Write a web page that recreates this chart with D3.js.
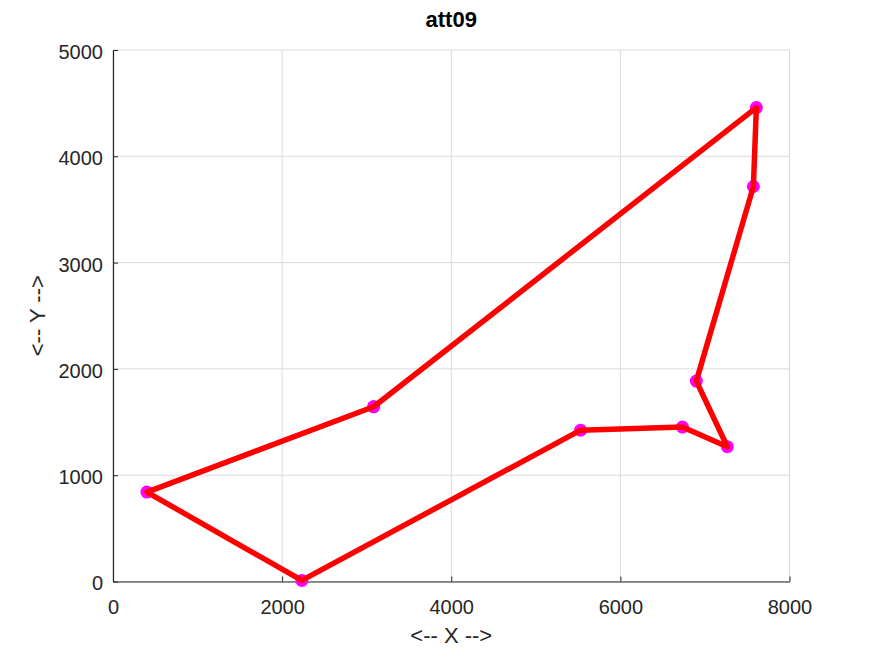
<!DOCTYPE html>
<html><head><meta charset="utf-8">
<script src="https://cdn.jsdelivr.net/npm/d3@7"></script>
<style>body{margin:0;background:#fff}svg{display:block}text{font-family:"Liberation Sans",Arial,sans-serif}</style>
</head><body>
<script>
const title = "att09";
const tourX = [3082, 7608, 7573, 6898, 7265, 6734, 5530, 2233, 401, 3082];
const tourY = [1644, 4458, 3716, 1885, 1268, 1453, 1424, 10, 841, 1644];
const xTicks = [0, 2000, 4000, 6000, 8000];
const yTicks = [0, 1000, 2000, 3000, 4000, 5000];

const W = 872, H = 654;
const m = {l:113, r:789.5, t:50, b:581.5};
const svg = d3.select("body").append("svg").attr("width", W).attr("height", H);
const x = d3.scaleLinear().domain([0, 8000]).range([m.l, m.r]);
const y = d3.scaleLinear().domain([0, 5000]).range([m.b, m.t]);

// grid
const g = svg.append("g");
g.selectAll(".gx").data(xTicks).enter().append("line")
  .attr("x1", d=>x(d)).attr("x2", d=>x(d)).attr("y1", m.t).attr("y2", m.b)
  .attr("stroke", "#dadada").attr("stroke-width", 1);
g.selectAll(".gy").data(yTicks).enter().append("line")
  .attr("y1", d=>y(d)).attr("y2", d=>y(d)).attr("x1", m.l).attr("x2", m.r)
  .attr("stroke", "#dadada").attr("stroke-width", 1);

// axes
const fmt = d3.format("d");
const xAxis = d3.axisBottom(x).tickValues(xTicks).tickFormat(fmt).tickSizeInner(-5).tickSizeOuter(0);
const yAxis = d3.axisLeft(y).tickValues(yTicks).tickFormat(fmt).tickSizeInner(-5).tickSizeOuter(0);
const gx = svg.append("g").attr("transform", `translate(0,${m.b})`).call(xAxis);
const gy = svg.append("g").attr("transform", `translate(${m.l},0)`).call(yAxis);
[gx, gy].forEach(a => {
  a.select(".domain").attr("stroke", "#262626").attr("stroke-width", 1.2);
  a.selectAll(".tick line").attr("stroke", "#262626");
  a.selectAll(".tick text").attr("fill", "#262626").style("font-size", "20px")
    .style("font-family", '"Liberation Sans",Arial,sans-serif');
});
gx.selectAll(".tick text").attr("dy", null).attr("y", 32.5);
gy.selectAll(".tick text").attr("x", -10).attr("dy", "0.42em");

// data
const pts = tourX.map((v,i)=>[v, tourY[i]]);
svg.append("g").selectAll("circle").data(pts).enter().append("circle")
  .attr("cx", d=>x(d[0])).attr("cy", d=>y(d[1])).attr("r", 6.5).attr("fill", "#ff00ff");
svg.append("path").datum(pts)
  .attr("d", d3.line().x(d=>x(d[0])).y(d=>y(d[1])))
  .attr("fill", "none").attr("stroke", "#ff0000").attr("stroke-width", 5.5)
  .attr("stroke-linejoin", "round").attr("stroke-linecap", "round");

// labels
svg.append("text").attr("x", (m.l+m.r)/2).attr("y", 27).attr("text-anchor", "middle")
  .style("font-size", "22px").style("font-weight", "bold").attr("fill", "#000").text(title);
svg.append("text").attr("x", (m.l+m.r)/2).attr("y", 643).attr("text-anchor", "middle")
  .style("font-size", "22px").attr("fill", "#262626").text("<-- X -->");
svg.append("text").attr("transform", `translate(45,${(m.t+m.b)/2}) rotate(-90)`).attr("text-anchor", "middle")
  .style("font-size", "22px").attr("fill", "#262626").text("<-- Y -->");
</script>
</body></html>
